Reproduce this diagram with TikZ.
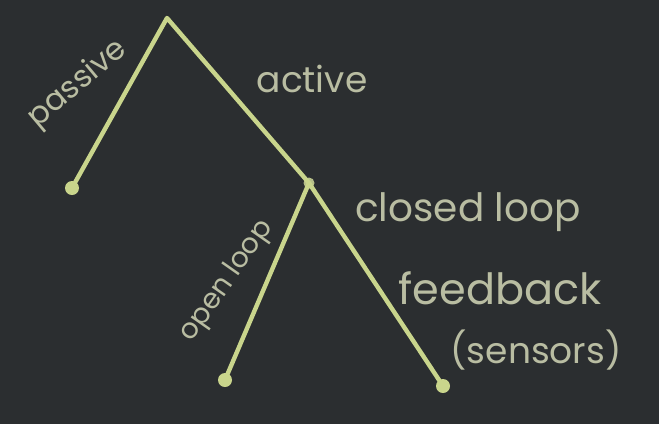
\documentclass[tikz,border=0pt]{standalone}
\usepackage{fontspec}
\setmainfont{Poppins}
\definecolor{board}{HTML}{2B2E30}
\definecolor{chalk}{HTML}{C9D58C}
\definecolor{chalktext}{HTML}{B9BDA2}
\tikzset{
  branch/.style={draw=chalk, line width=4.4pt, line cap=round, line join=round},
  leaf/.style={circle, fill=chalk, inner sep=0pt, minimum size=14pt},
  joint/.style={circle, fill=chalk!75!gray, inner sep=0pt, minimum size=11pt},
  lbl/.style={text=chalktext, font=\fontsize{#1}{#1}\selectfont, inner sep=0pt},
  lbl/.default=30,
}
\begin{document}
\begin{tikzpicture}[x=1pt,y=-1pt]
\fill[board] (0,0) rectangle (659,424);
\useasboundingbox (0,0) rectangle (659,424);
\coordinate (root) at (167,18);
\node[leaf] (passiveleaf) at (72,188) {};
\node[joint] (act) at (309,183) {};
\node[leaf] (openleaf) at (225,380) {};
\node[leaf] (closedleaf) at (443,386) {};
\draw[branch] (passiveleaf.center) -- (root) -- (act.center);
\draw[branch] (openleaf.center) -- (act.center) -- (closedleaf.center);
\node[lbl=31, rotate=40] (passive) at (78,84) {passive};
\node[lbl=36] (active) at (312,79) {active};
\node[lbl=28, rotate=55] (openloop) at (227,281) {open loop};
\node[lbl=39] (closedloop) at (468,212) {closed loop};
\node[lbl=43] (feedback) at (500,288) {feedback};
\node[lbl=36] (sensors) at (536,350) {(sensors)};
\end{tikzpicture}
\end{document}
